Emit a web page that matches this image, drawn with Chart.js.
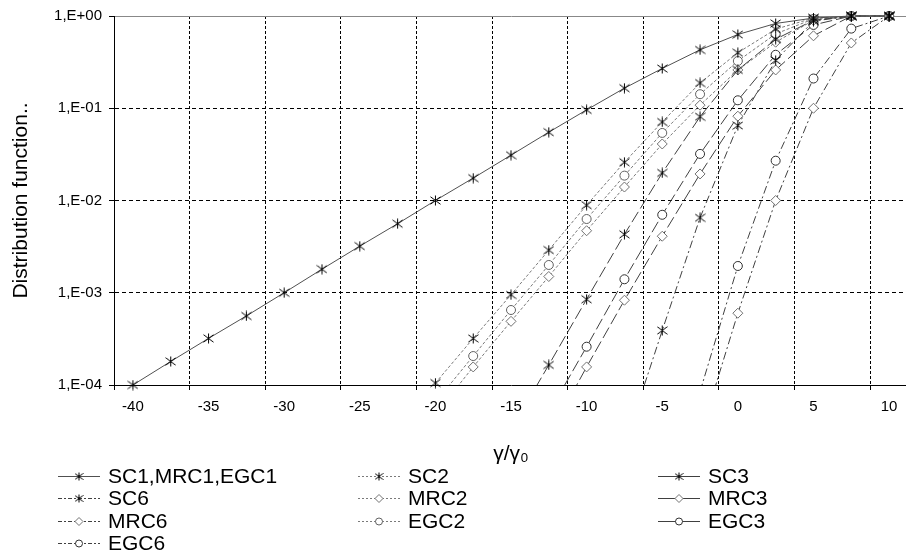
<!DOCTYPE html>
<html>
<head>
<meta charset="utf-8">
<script src="https://cdn.jsdelivr.net/npm/chart.js@4.4.1/dist/chart.umd.min.js"></script>
<style>
html, body { margin: 0; padding: 0; background: #fff; overflow: hidden; }
/* the plot runs a bit past the right edge of the window, as in the original */
#wrap { width: 914px; height: 554px; }
</style>
</head>
<body>
<div id="wrap"><canvas id="distChart"></canvas></div>
<script>
// x values (gamma/gamma0), one point every 2.5
var gammaRatio = [-40, -37.5, -35, -32.5, -30, -27.5, -25, -22.5, -20, -17.5, -15,
    -12.5, -10, -7.5, -5, -2.5, 0, 2.5, 5, 7.5, 10];

// distribution function (null = no point)
var sc1 = [1.0e-4, 1.8e-4, 3.2e-4, 5.6e-4, 1.0e-3, 1.8e-3, 3.2e-3, 5.6e-3, 1.0e-2, 1.75e-2, 3.1e-2,
    5.5e-2, 9.6e-2, 0.165, 0.27, 0.43, 0.63, 0.83, 0.95, 1, 1];
var sc2 = [null, null, null, null, null, null, null, null, 1.05e-4, 3.2e-4, 9.5e-4,
    2.9e-3, 8.9e-3, 0.026, 0.071, 0.188, 0.40, 0.72, 0.95, 1, 1];
var sc3 = [null, null, null, null, null, null, null, null, null, null, 3.3e-5,
    1.65e-4, 8.5e-4, 4.3e-3, 0.0199, 0.081, 0.26, 0.56, 0.9, 1, 1];
var sc6 = [null, null, null, null, null, null, null, null, null, null, null,
    null, null, 2.2e-5, 3.9e-4, 6.5e-3, 0.065, 0.33, 0.88, 1, 1];
var mrc2 = [null, null, null, null, null, null, null, null, 4.8e-5, 1.57e-4, 4.9e-4,
    1.5e-3, 4.7e-3, 0.014, 0.041, 0.108, 0.26, 0.52, 0.9, 1, 1];
var mrc3 = [null, null, null, null, null, null, null, null, null, null, null,
    2.8e-5, 1.57e-4, 8.3e-4, 4.1e-3, 0.0194, 0.082, 0.26, 0.61, 1, 1];
var mrc6 = [null, null, null, null, null, null, null, null, null, null, null,
    null, null, null, null, 2.8e-5, 6.0e-4, 0.010, 0.10, 0.51, 1];
var egc2 = [null, null, null, null, null, null, null, null, 6.5e-5, 2.06e-4, 6.5e-4,
    2.0e-3, 6.3e-3, 0.0186, 0.054, 0.142, 0.325, 0.64, 0.93, 1, 1];
var egc3 = [null, null, null, null, null, null, null, null, null, null, null,
    5.0e-5, 2.6e-4, 1.4e-3, 7.0e-3, 0.032, 0.122, 0.38, 0.8, 1, 1];
var egc6 = [null, null, null, null, null, null, null, null, null, null, null,
    null, null, null, null, 8.5e-5, 1.95e-3, 0.027, 0.21, 0.73, 1];

var seriesNames = ['SC1,MRC1,EGC1', 'SC2', 'SC3', 'SC6', 'MRC2', 'MRC3', 'MRC6', 'EGC2', 'EGC3', 'EGC6'];
var seriesValues = [sc1, sc2, sc3, sc6, mrc2, mrc3, mrc6, egc2, egc3, egc6];

// axis ticks
var xTickLabels = [-40, -35, -30, -25, -20, -15, -10, -5, 0, 5, 10];
var xGridLines = [-41.25, -36.25, -31.25, -26.25, -21.25, -16.25, -11.25, -6.25, -1.25, 3.75, 8.75];
var yTicks = [1e-4, 1e-3, 1e-2, 1e-1, 1];
var yTickLabels = ['1,E-04', '1,E-03', '1,E-02', '1,E-01', '1,E+00'];

// styles
var seriesGroup = ['1', '2', '3', '6', '2', '3', '6', '2', '3', '6'];
var seriesMarker = ['star', 'star', 'star', 'star', 'diamond', 'diamond', 'diamond', 'circle', 'circle', 'circle'];
var groupStyle = {
    '1': {color: '#505050', dash: [], legendDash: []},
    '2': {color: '#7a7a7a', dash: [3, 2], legendDash: [2, 2]},
    '3': {color: '#404040', dash: [12, 4], legendDash: []},
    '6': {color: '#404040', dash: [8, 3, 2, 3], legendDash: [4, 2, 2, 2]}
};

Chart.defaults.font.family = '"Liberation Sans", Arial, sans-serif';
Chart.defaults.color = '#000';

function makeAsterisk(size, color) {
    var c = document.createElement('canvas');
    c.width = size; c.height = size;
    var g = c.getContext('2d');
    var m = size / 2, r = size / 2 - 0.5;
    g.strokeStyle = color;
    g.lineWidth = 1;
    g.beginPath();
    g.moveTo(m, m - r); g.lineTo(m, m + r);
    g.moveTo(m - r, m - r * 0.75); g.lineTo(m + r, m + r * 0.75);
    g.moveTo(m - r, m + r * 0.75); g.lineTo(m + r, m - r * 0.75);
    g.stroke();
    return c;
}
var asterisk = makeAsterisk(11, '#000');
var asteriskSmall = makeAsterisk(9, '#000');

var datasets = seriesValues.map(function (vals, i) {
    var st = groupStyle[seriesGroup[i]];
    var mk = seriesMarker[i];
    var goesBelow = vals.some(function (v) { return v !== null && v < 1e-4; });
    return {
        label: seriesNames[i],
        data: gammaRatio.map(function (x, k) { return {x: x, y: vals[k]}; }),
        borderColor: st.color,
        borderWidth: 1,
        borderDash: st.dash,
        legendDash: st.legendDash,
        markerType: mk,
        pointStyle: mk === 'star' ? asterisk : (mk === 'diamond' ? 'rectRot' : 'circle'),
        pointRadius: mk === 'diamond' ? 5 : 4.5,
        pointBorderWidth: 1,
        pointBorderColor: mk === 'diamond' ? '#707070' : (seriesGroup[i] === '2' ? '#606060' : '#303030'),
        pointBackgroundColor: '#fff',
        tension: 0,
        fill: false,
        spanGaps: false,
        clip: {left: 2, top: 8, right: 0, bottom: goesBelow ? 0 : 6}
    };
});

// legend in three columns, row-major like the original
var columnLegend = {
    id: 'columnLegend',
    afterDraw: function (chart) {
        var ctx = chart.ctx;
        var cols = [58, 358, 658];
        var rows = [476, 498, 521, 543];
        chart.data.datasets.forEach(function (ds, i) {
            var x0 = cols[i % 3], y = rows[Math.floor(i / 3)];
            ctx.save();
            ctx.strokeStyle = ds.borderColor;
            ctx.lineWidth = 1;
            ctx.setLineDash(ds.legendDash);
            ctx.beginPath();
            ctx.moveTo(x0, y + 0.5); ctx.lineTo(x0 + 42, y + 0.5);
            ctx.stroke();
            ctx.setLineDash([]);
            var mx = x0 + 21;
            if (ds.markerType === 'star') {
                ctx.drawImage(asteriskSmall, mx - 4.5, y - 4);
            } else if (ds.markerType === 'diamond') {
                ctx.fillStyle = '#fff';
                ctx.strokeStyle = ds.pointBorderColor;
                ctx.beginPath();
                ctx.moveTo(mx - 4, y + 0.5); ctx.lineTo(mx, y - 3.5);
                ctx.lineTo(mx + 4, y + 0.5); ctx.lineTo(mx, y + 4.5);
                ctx.closePath(); ctx.fill(); ctx.stroke();
            } else {
                ctx.fillStyle = '#fff';
                ctx.strokeStyle = ds.pointBorderColor;
                ctx.beginPath();
                ctx.arc(mx, y + 0.5, 3.5, 0, Math.PI * 2);
                ctx.fill(); ctx.stroke();
            }
            ctx.fillStyle = '#000';
            ctx.font = '21px "Liberation Sans", Arial, sans-serif';
            ctx.textBaseline = 'middle';
            ctx.fillText(ds.label, x0 + 50, y + 1);
            ctx.restore();
        });
    }
};

new Chart(document.getElementById('distChart'), {
    type: 'line',
    data: {datasets: datasets},
    plugins: [columnLegend],
    options: {
        responsive: true,
        maintainAspectRatio: false,
        animation: false,
        layout: {padding: {top: 16, right: 0, bottom: 84, left: 0}},
        plugins: {legend: {display: false}, tooltip: {enabled: false}},
        scales: {
            x: {
                type: 'linear',
                min: -41.25,
                max: 11.25,
                afterBuildTicks: function (s) {
                    var vals = xGridLines.concat(xTickLabels).sort(function (a, b) { return a - b; });
                    s.ticks = vals.map(function (v) { return {value: v}; });
                },
                afterFit: function (s) { s.height = 85; },
                ticks: {
                    autoSkip: false, maxRotation: 0, padding: 8,
                    font: {size: 15},
                    callback: function (v) { return xTickLabels.indexOf(v) >= 0 ? String(v) : ''; }
                },
                grid: {
                    tickLength: 5,
                    color: function (c) {
                        return c.tick && xGridLines.indexOf(c.tick.value) > 0 ? '#000' : 'rgba(0,0,0,0)';
                    },
                    tickColor: function (c) {
                        return c.tick && xGridLines.indexOf(c.tick.value) >= 0 ? '#000' : 'rgba(0,0,0,0)';
                    }
                },
                border: {color: '#000', width: 1, dash: [3, 2]},
                title: {
                    display: true, text: 'γ/γ₀',
                    font: {size: 21}, padding: {top: 0, bottom: 3}
                }
            },
            y: {
                type: 'logarithmic',
                min: 1e-4,
                max: 1,
                afterBuildTicks: function (s) {
                    s.ticks = yTicks.map(function (v) { return {value: v}; });
                },
                afterFit: function (s) { s.width = 114; },
                ticks: {
                    padding: 7,
                    font: {size: 15},
                    callback: function (v) { return yTickLabels[yTicks.indexOf(v)]; }
                },
                grid: {
                    tickLength: 5,
                    color: function (c) { return c.tick && c.tick.value === 1 ? '#888' : '#000'; },
                    tickColor: '#000'
                },
                border: {
                    color: '#000', width: 1,
                    dash: function (c) { return c.tick && c.tick.value === 1 ? [] : [4, 3]; }
                },
                title: {
                    display: true, text: 'Distribution function..',
                    font: {size: 21}, padding: {top: 9, bottom: 0}
                }
            }
        }
    }
});
</script>
</body>
</html>
